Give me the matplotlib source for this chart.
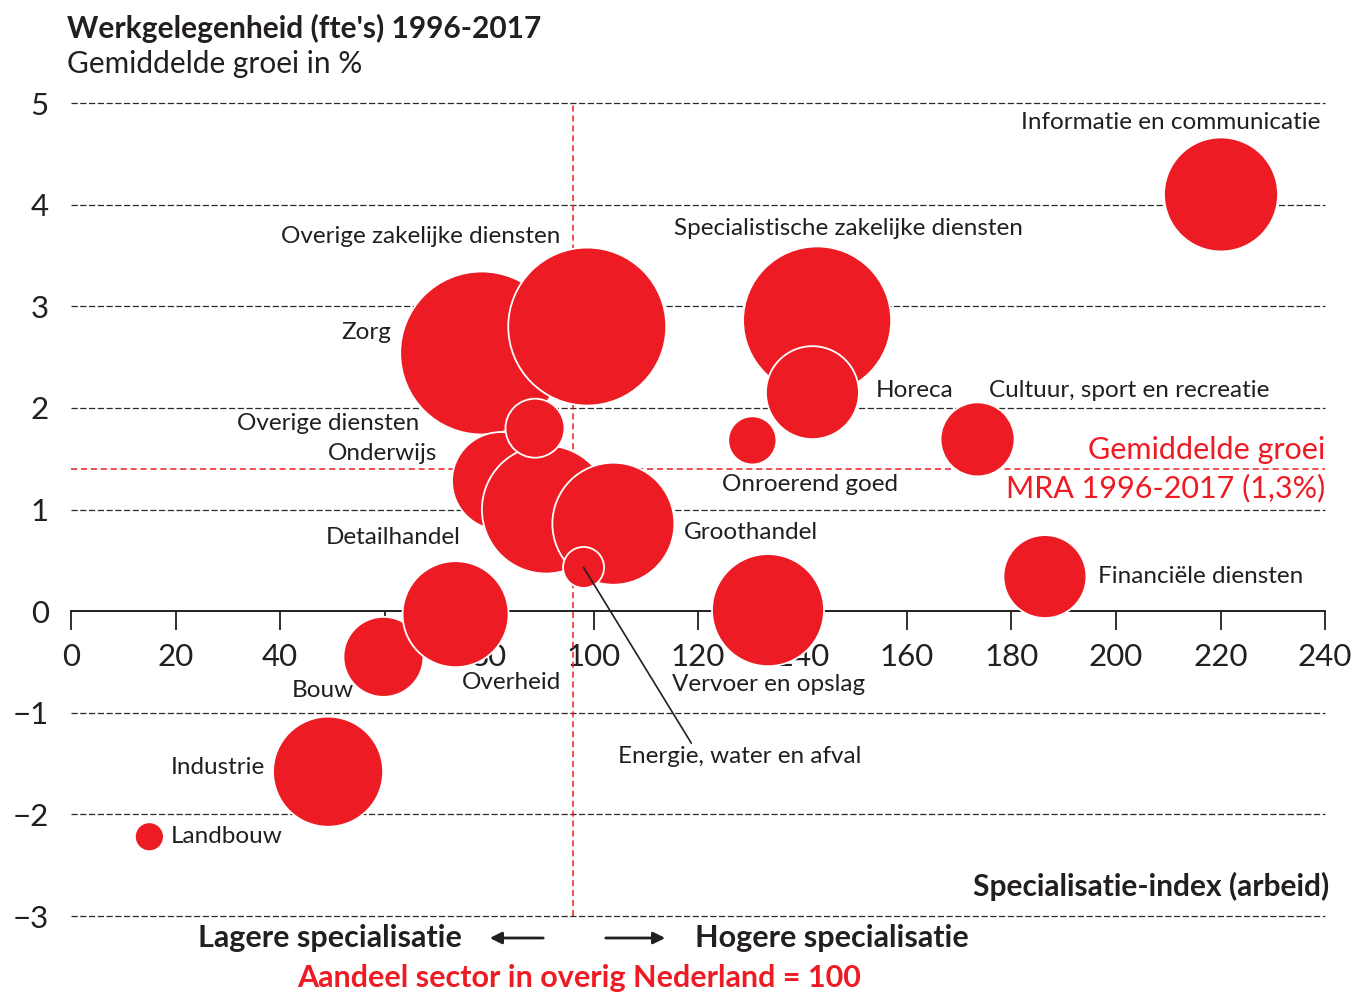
import numpy as np
import matplotlib.pyplot as plt

plt.rcParams['font.family'] = ['Lato', 'DejaVu Sans']

ROOD = '#ED1C24'
DONKER = '#231F20'

# sectoren in tekenvolgorde (onderste bubbel eerst)
sectoren = ['Informatie en communicatie', 'Specialistische zakelijke diensten', 'Horeca',
            'Zorg', 'Overige zakelijke diensten', 'Onderwijs', 'Detailhandel',
            'Overige diensten', 'Groothandel', 'Energie, water en afval',
            'Onroerend goed', 'Cultuur, sport en recreatie', 'Financiële diensten',
            'Vervoer en opslag', 'Bouw', 'Overheid', 'Industrie', 'Landbouw']
spec_index = [220.1, 142.8, 141.9, 78.6, 98.8, 82.3, 90.9, 88.8, 103.8, 98.1,
              130.4, 173.5, 186.4, 133.4, 59.8, 73.6, 49.2, 15.0]
groei = [4.10, 2.86, 2.15, 2.54, 2.80, 1.28, 1.00, 1.80, 0.86, 0.43,
         1.68, 1.69, 0.34, 0.01, -0.45, -0.03, -1.58, -2.22]
omvang = [32.5, 54.8, 21.6, 66.4, 62.4, 24.0, 41.0, 8.7, 37.2, 4.2,
          5.8, 13.7, 17.2, 31.4, 16.0, 28.1, 30.3, 2.1]

gem_groei = 1.4      # lijn gemiddelde groei MRA
gem_index = 96       # lijn aandeel overig Nederland

# labelplaatsing t.o.v. bubbel (pixels) en uitlijning
label_pos = {
    'Informatie en communicatie': (99, 72, 'right'),
    'Specialistische zakelijke diensten': (31, 92, 'center'),
    'Horeca': (63, 2, 'left'),
    'Zorg': (-90, 20, 'right'),
    'Overige zakelijke diensten': (-27, 90, 'right'),
    'Onderwijs': (-64, 28, 'right'),
    'Detailhandel': (-85, -28, 'right'),
    'Overige diensten': (-116, 5, 'right'),
    'Groothandel': (71, -9, 'left'),
    'Onroerend goed': (-30, -44, 'left'),
    'Cultuur, sport en recreatie': (11, 49, 'left'),
    'Financiële diensten': (53, 0, 'left'),
    'Vervoer en opslag': (-96, -74, 'left'),
    'Bouw': (-30, -34, 'right'),
    'Overheid': (6, -68, 'left'),
    'Industrie': (-63, 4, 'right'),
    'Landbouw': (21, 0, 'left'),
}

W, H = 1355, 994
fig = plt.figure(figsize=(W / 100, H / 100), dpi=100)
ax = fig.add_axes([71 / W, 1 - 916 / H, (1325 - 71) / W, (916 - 103) / H])
ax.set_xlim(0, 240)
ax.set_ylim(-3, 5)

# rasterlijnen
for y in [-3, -2, -1, 1, 2, 3, 4, 5]:
    ax.axhline(y, color='#2a2a2a', lw=0.9, ls=(0, (5, 2)), zorder=0.5, clip_on=False)
ax.axhline(gem_groei, color=ROOD, lw=1.1, ls=(0, (4, 2.5)), zorder=0.6)
ax.axvline(gem_index, color=ROOD, lw=1.1, ls=(0, (4, 2.5)), zorder=0.6, clip_on=False)

# bubbels
grootte = np.array(omvang) * 100 * (2 * 0.72) ** 2
ax.scatter(spec_index, groei, s=grootte, color=ROOD, edgecolor='white',
           linewidth=1.3, zorder=2)

for naam, x, y in zip(sectoren, spec_index, groei):
    if naam in label_pos:
        dx, dy, ha = label_pos[naam]
        ax.annotate(naam, (x, y), xytext=(dx, dy), textcoords='offset pixels',
                    ha=ha, va='center', fontsize=17.5, color=DONKER, zorder=4)

i = sectoren.index('Energie, water en afval')
ax.annotate('Energie, water en afval', (spec_index[i], groei[i]), xytext=(34, -189),
            textcoords='offset pixels', ha='left', va='center', fontsize=17.5,
            color=DONKER, zorder=4,
            arrowprops=dict(arrowstyle='-', color=DONKER, lw=1.2, shrinkA=0,
                            shrinkB=0, relpos=(0.31, 1.0)))

ax.annotate('Gemiddelde groei', (240, gem_groei), xytext=(0, 19),
            textcoords='offset pixels', ha='right', va='center', fontsize=22, color=ROOD)
ax.annotate('MRA 1996-2017 (1,3%)', (240, gem_groei), xytext=(0, -19),
            textcoords='offset pixels', ha='right', va='center', fontsize=22, color=ROOD)

# assen
for s in ['top', 'right', 'left']:
    ax.spines[s].set_visible(False)
ax.spines['bottom'].set_position(('data', 0))
ax.spines['bottom'].set_color(DONKER)
ax.spines['bottom'].set_linewidth(1.4)
ax.spines['bottom'].set_zorder(1)
ax.set_axisbelow(True)
ax.set_xticks(range(0, 241, 20))
ax.set_yticks(range(-3, 6))
ax.tick_params(axis='x', direction='out', length=14, width=1.3, color=DONKER,
               pad=9, labelsize=22.5, labelcolor=DONKER)
ax.tick_params(axis='y', length=0, pad=16, labelsize=22.5, labelcolor=DONKER)

# titels en toelichting
fig.text(67 / W, 1 - 28 / H, "Werkgelegenheid (fte's) 1996-2017", fontsize=21.5,
         fontweight='bold', color=DONKER, va='center', ha='left')
fig.text(67 / W, 1 - 64 / H, 'Gemiddelde groei in %', fontsize=21.5,
         color=DONKER, va='center', ha='left')
fig.text(1329 / W, 1 - 886 / H, 'Specialisatie-index (arbeid)', fontsize=21.5,
         fontweight='bold', color=DONKER, va='center', ha='right')
fig.text(462 / W, 1 - 938 / H, 'Lagere specialisatie', fontsize=22,
         fontweight='bold', color=DONKER, va='center', ha='right')
fig.text(695 / W, 1 - 938 / H, 'Hogere specialisatie', fontsize=22,
         fontweight='bold', color=DONKER, va='center', ha='left')
fig.text(579 / W, 1 - 978 / H, 'Aandeel sector in overig Nederland = 100', fontsize=22,
         fontweight='bold', color=ROOD, va='center', ha='center')

pijl = dict(arrowstyle='-|>,head_length=0.7,head_width=0.35', color=DONKER, lw=2)
fig.add_artist(plt.Annotation('', xy=(487 / W, 1 - 938 / H), xytext=(546 / W, 1 - 938 / H),
                              xycoords='figure fraction', arrowprops=pijl))
fig.add_artist(plt.Annotation('', xy=(668 / W, 1 - 938 / H), xytext=(603 / W, 1 - 938 / H),
                              xycoords='figure fraction', arrowprops=pijl))

fig.savefig('out.png', dpi=100)
